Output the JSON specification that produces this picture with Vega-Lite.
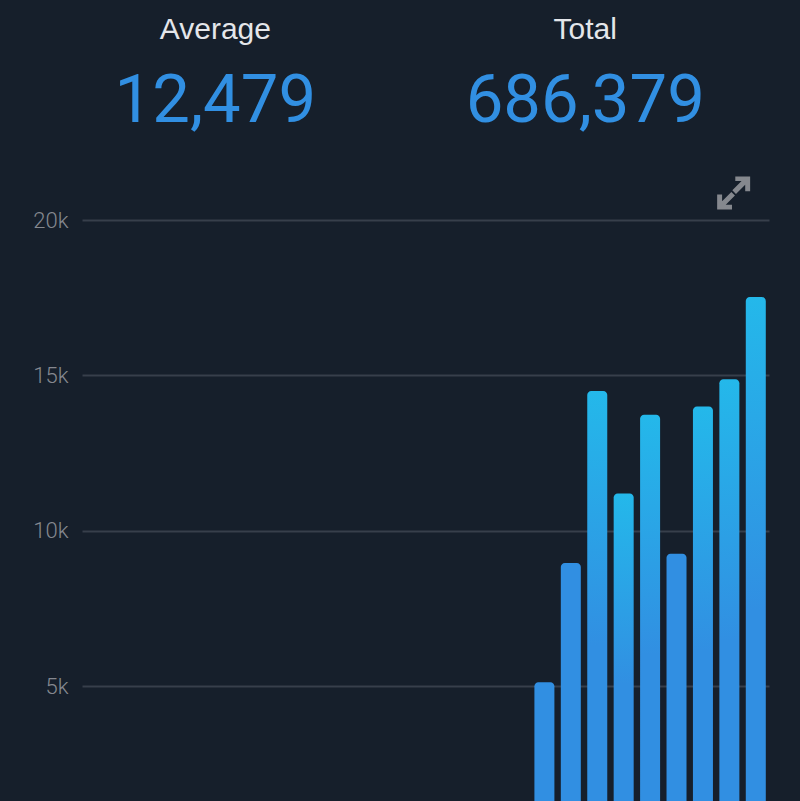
{
  "$schema": "https://vega.github.io/schema/vega-lite/v6.json",
  "width": 687,
  "height": 581,
  "autosize": "none",
  "padding": {"left": 82, "top": 220, "right": 31, "bottom": 0},
  "background": "#161f2b",
  "config": {"view": {"stroke": null}},
  "layer": [
    {
      "data": {"values": [
        {"slot": 18, "visits": 5130},
        {"slot": 19, "visits": 8960},
        {"slot": 20, "visits": 14500},
        {"slot": 21, "visits": 11200},
        {"slot": 22, "visits": 13730},
        {"slot": 23, "visits": 9260},
        {"slot": 24, "visits": 14000},
        {"slot": 25, "visits": 14880},
        {"slot": 26, "visits": 17520}
      ]},
      "mark": {"type": "bar", "clip": true, "cornerRadiusTopLeft": 4, "cornerRadiusTopRight": 4, "width": 20},
      "encoding": {
        "x": {
          "field": "slot",
          "type": "ordinal",
          "scale": {"domain": [1,2,3,4,5,6,7,8,9,10,11,12,13,14,15,16,17,18,19,20,21,22,23,24,25,26]},
          "axis": null
        },
        "y": {
          "field": "visits",
          "type": "quantitative",
          "scale": {"domain": [1306, 20000], "nice": false, "zero": false},
          "axis": {
            "values": [5000, 10000, 15000, 20000],
            "labelExpr": "(datum.value / 1000) + 'k'",
            "title": null,
            "domain": false,
            "ticks": false,
            "grid": true,
            "gridColor": "#373f4b",
            "gridWidth": 2,
            "labelColor": "#85888f",
            "labelFont": "Roboto",
            "labelFontWeight": 300,
            "labelFontSize": 22,
            "labelPadding": 14
          }
        },
        "y2": {"datum": 1306},
        "color": {
          "condition": {"test": "datum.visits < 10000", "value": "#318fe2"},
          "value": {
            "gradient": "linear",
            "x1": 0, "y1": 0, "x2": 0, "y2": 1,
            "stops": [
              {"offset": 0, "color": "#24b8ea"},
              {"offset": 0.62, "color": "#318fe2"},
              {"offset": 1, "color": "#318fe2"}
            ]
          }
        }
      }
    },
    {
      "data": {"values": [{"label": "Average", "amount": "12,479"}]},
      "layer": [
        {
          "mark": {"type": "text", "font": "Liberation Sans", "fontSize": 30, "color": "#e4e6ea", "dx": -12},
          "encoding": {"x": {"datum": 6, "type": "ordinal"}, "y": {"datum": 26120, "type": "quantitative"}, "text": {"field": "label"}}
        },
        {
          "mark": {"type": "text", "font": "Roboto", "fontWeight": 400, "fontSize": 67, "color": "#318fe2", "dx": -12},
          "encoding": {"x": {"datum": 6, "type": "ordinal"}, "y": {"datum": 23800, "type": "quantitative"}, "text": {"field": "amount"}}
        }
      ]
    },
    {
      "data": {"values": [{"label": "Total", "amount": "686,379"}]},
      "layer": [
        {
          "mark": {"type": "text", "font": "Liberation Sans", "fontSize": 30, "color": "#e4e6ea", "dx": -12},
          "encoding": {"x": {"datum": 20, "type": "ordinal"}, "y": {"datum": 26120, "type": "quantitative"}, "text": {"field": "label"}}
        },
        {
          "mark": {"type": "text", "font": "Roboto", "fontWeight": 400, "fontSize": 67, "color": "#318fe2", "dx": -12},
          "encoding": {"x": {"datum": 20, "type": "ordinal"}, "y": {"datum": 23800, "type": "quantitative"}, "text": {"field": "amount"}}
        }
      ]
    },
    {
      "data": {"values": [{"icon": "expand"}]},
      "mark": {
        "type": "point",
        "filled": true,
        "opacity": 1,
        "clip": false,
        "color": "#85888e",
        "size": 1089,
        "shape": "M0.1 -1 H1 V-0.1 H0.7 V-0.5 L0.14 0.06 L-0.08 -0.16 L0.48 -0.72 H0.1 Z M-0.1 1 H-1 V0.1 H-0.7 V0.5 L-0.14 -0.06 L0.08 0.16 L-0.48 0.72 H-0.1 Z"
      },
      "encoding": {"x": {"datum": 25, "type": "ordinal", "bandPosition": 0.68}, "y": {"datum": 20870, "type": "quantitative"}}
    }
  ]
}
